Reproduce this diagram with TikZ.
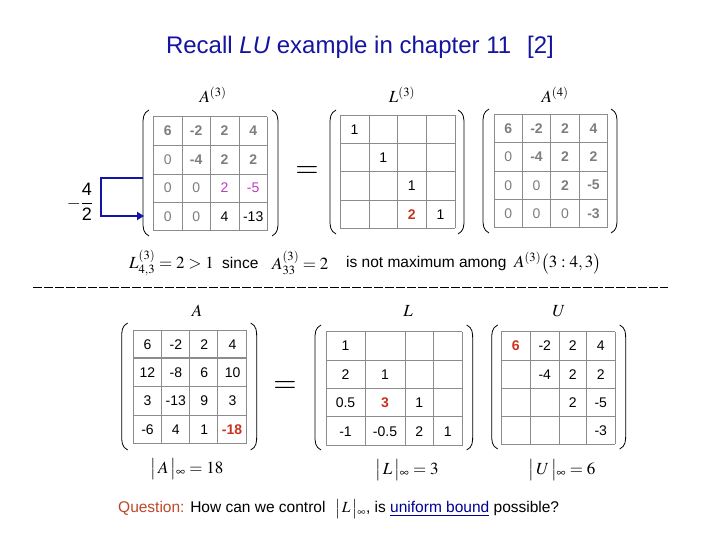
\documentclass[tikz,border=0pt]{standalone}
\usepackage{mathptmx}
\usepackage[no-math]{fontspec}
\setmainfont{Liberation Sans}
\usetikzlibrary{arrows.meta}
\definecolor{titleblue}{RGB}{20,20,160}
\definecolor{gridgray}{RGB}{140,140,140}
\definecolor{numgray}{RGB}{125,125,125}
\definecolor{pinknum}{RGB}{190,60,190}
\definecolor{rednum}{RGB}{200,50,30}
\definecolor{arrowblue}{RGB}{20,20,170}
\definecolor{askred}{RGB}{190,70,40}
\definecolor{linkblue}{RGB}{0,0,150}
\tikzset{
   cell/.style={inner sep=0pt, font=\fontsize{14}{16}\selectfont},
   graybold/.style={cell, text=numgray, font=\fontsize{14}{16}\selectfont\bfseries},
   grayplain/.style={cell, text=numgray},
   pinkcell/.style={cell, text=pinknum},
   redcell/.style={cell, text=rednum, font=\fontsize{14}{16}\selectfont\bfseries},
   gridline/.style={draw=gridgray, line width=0.9pt},
   paren/.style={draw=black, line width=0.8pt},
   mathlabel/.style={inner sep=0pt, font=\fontsize{17}{19}\selectfont},
   plaintext/.style={inner sep=0pt, font=\fontsize{15.5}{19}\selectfont},
   bigeq/.style={inner sep=0pt, font=\fontsize{30}{32}\selectfont},
   rowarrow/.style={draw=arrowblue, line width=2.8pt, -{Triangle[length=7pt,width=8pt]}}
}

\begin{document}
\begin{tikzpicture}[x=1pt, y=-1pt]
   \useasboundingbox (0,0) rectangle (720,540);

   \node[font=\fontsize{24}{28}\selectfont, text=titleblue] (title) at (360,47)
      {Recall \textit{LU} example in chapter 11\hspace{16pt}[2]};

   % parentheses round the six matrices
   \foreach \l/\r/\t/\b in {143/278/110/236, 330/464/110/234, 483/617/109/233,
                           121.7/256.7/323/450, 315/472.7/325/450, 491.7/625.7/325/449}{
      \draw[paren] (\l+6,\t) .. controls (\l,\t+3) and (\l,\t+8) .. (\l,\t+15)
         -- (\l,\b-15) .. controls (\l,\b-8) and (\l,\b-3) .. (\l+6,\b);
      \draw[paren] (\r-6,\t) .. controls (\r,\t+3) and (\r,\t+8) .. (\r,\t+15)
         -- (\r,\b-15) .. controls (\r,\b-8) and (\r,\b-3) .. (\r-6,\b);
   }

   % A^(3)
   \node[mathlabel] (athreelab) at (213,95) {$A^{(3)}$};
   \foreach \x in {153.3,182.3,210,239,267.3} \draw[gridline] (\x,116.7) -- (\x,230.7);
   \foreach \y in {116.7,145,174,202.7,230.7} \draw[gridline] (153.3,\y) -- (267.3,\y);
   \foreach \x/\v [count=\c] in {167.8/6,196.2/-2,224.5/2,253.2/4}
      \node[graybold] (athree-1-\c) at (\x,131) {\v};
   \node[grayplain] (athree-2-1) at (167.8,159.5) {0};
   \foreach \x/\v [count=\c from 2] in {196.2/-4,224.5/2,253.2/2}
      \node[graybold] (athree-2-\c) at (\x,159.5) {\v};
   \node[grayplain] (athree-3-1) at (167.8,188) {0};
   \node[grayplain] (athree-3-2) at (196.2,188) {0};
   \node[pinkcell] (athree-3-3) at (224.5,188) {2};
   \node[pinkcell] (athree-3-4) at (253.2,188) {-5};
   \node[grayplain] (athree-4-1) at (167.8,216.7) {0};
   \node[grayplain] (athree-4-2) at (196.2,216.7) {0};
   \node[cell] (athree-4-3) at (224.5,216.7) {4};
   \node[cell] (athree-4-4) at (253.2,216.7) {-13};

   % multiplier and row operation
   \node[inner sep=0pt, font=\fontsize{18}{20}\selectfont] (mult) at (80,202)
      {$\displaystyle -\frac{\mbox{4}}{\mbox{2}}$};
   \coordinate (rowthree) at (143,178);
   \coordinate (turn) at (101,178);
   \coordinate (rowfour) at (144,216);
   \draw[rowarrow] (rowthree) -- (turn) |- (rowfour);

   \node[bigeq] (eqtop) at (307,172) {$=$};

   % L^(3)
   \node[mathlabel] (lthreelab) at (402,95) {$L^{(3)}$};
   \foreach \x in {340,369,397.3,426,455} \draw[gridline] (\x,115) -- (\x,228.3);
   \foreach \y in {115,143.3,171.7,200,228.3} \draw[gridline] (340,\y) -- (455,\y);
   \node[cell] (lthree-1-1) at (354.5,129.2) {1};
   \node[cell] (lthree-2-2) at (383.2,157.5) {1};
   \node[cell] (lthree-3-3) at (411.7,185.8) {1};
   \node[redcell] (lthree-4-3) at (411.7,214.2) {2};
   \node[cell] (lthree-4-4) at (440.5,214.2) {1};

   % A^(4)
   \node[mathlabel] (afourlab) at (555,95) {$A^{(4)}$};
   \foreach \x in {494,522.3,550.7,579.3,607.7} \draw[gridline] (\x,114) -- (\x,227.7);
   \foreach \y in {114,142.3,171,199.3,227.7} \draw[gridline] (494,\y) -- (607.7,\y);
   \foreach \x/\v [count=\c] in {508.2/6,536.5/-2,565/2,593.5/4}
      \node[graybold] (afour-1-\c) at (\x,128.2) {\v};
   \node[grayplain] (afour-2-1) at (508.2,156.7) {0};
   \foreach \x/\v [count=\c from 2] in {536.5/-4,565/2,593.5/2}
      \node[graybold] (afour-2-\c) at (\x,156.7) {\v};
   \node[grayplain] (afour-3-1) at (508.2,185.2) {0};
   \node[grayplain] (afour-3-2) at (536.5,185.2) {0};
   \node[graybold] (afour-3-3) at (565,185.2) {2};
   \node[graybold] (afour-3-4) at (593.5,185.2) {-5};
   \node[grayplain] (afour-4-1) at (508.2,213.5) {0};
   \node[grayplain] (afour-4-2) at (536.5,213.5) {0};
   \node[grayplain] (afour-4-3) at (565,213.5) {0};
   \node[graybold] (afour-4-4) at (593.5,213.5) {-3};

   % remark line
   \node[mathlabel, anchor=west] (lfact) at (129,263) {$L^{(3)}_{4,3}=2>1$};
   \node[plaintext, anchor=west] (since) at (222,263) {since};
   \node[mathlabel, anchor=west] (pivot) at (272,263) {$A^{(3)}_{33}=2$};
   \node[plaintext, anchor=west] (notmax) at (346,263) {is not maximum among};
   \node[mathlabel, anchor=west] (column) at (514,263) {$A^{(3)}\bigl(3:4,3\bigr)$};

   \draw[line width=0.8pt, dash pattern=on 8.5pt off 2.5pt] (33,287) -- (668,287);

   % A
   \node[mathlabel] (alab) at (197,311) {$A$};
   \foreach \x in {133.3,161.7,189.3,217.3,246.7} \draw[gridline] (\x,330) -- (\x,443.3);
   \foreach \y in {330,386.7,415,443.3} \draw[gridline] (133.3,\y) -- (246.7,\y);
   \draw[gridline, line width=2.2pt] (133.3,358.3) -- (246.7,358.3);
   \foreach \v [count=\c, evaluate=\c as \x using {147.5+28.35*(\c-1)}] in {6,-2,2,4}
      \node[cell] (a-1-\c) at (\x,344.2) {\v};
   \foreach \v [count=\c, evaluate=\c as \x using {147.5+28.35*(\c-1)}] in {12,-8,6,10}
      \node[cell] (a-2-\c) at (\x,372.5) {\v};
   \foreach \v [count=\c, evaluate=\c as \x using {147.5+28.35*(\c-1)}] in {3,-13,9,3}
      \node[cell] (a-3-\c) at (\x,400.8) {\v};
   \foreach \v [count=\c, evaluate=\c as \x using {147.5+28.35*(\c-1)}] in {-6,4,1}
      \node[cell] (a-4-\c) at (\x,429.2) {\v};
   \node[redcell] (a-4-4) at (232,429.2) {-18};
   \node[mathlabel] (anorm) at (187,469) {$\bigl|\,A\,\bigr|{}_{\infty}=18$};

   \node[bigeq] (eqbottom) at (285,387) {$=$};

   % L
   \node[mathlabel] (llab) at (408,311) {$L$};
   \foreach \x in {326,365,405,433.3,462.3} \draw[gridline] (\x,331.7) -- (\x,445.7);
   \foreach \y in {331.7,360,388.3,416.7,445.7} \draw[gridline] (326,\y) -- (462.3,\y);
   \node[cell] (l-1-1) at (345.5,345.8) {1};
   \node[cell] (l-2-1) at (345.5,374.2) {2};
   \node[cell] (l-2-2) at (385,374.2) {1};
   \node[cell] (l-3-1) at (345.5,402.5) {0.5};
   \node[redcell] (l-3-2) at (385,402.5) {3};
   \node[cell] (l-3-3) at (419.2,402.5) {1};
   \node[cell] (l-4-1) at (345.5,431.2) {-1};
   \node[cell] (l-4-2) at (385,431.2) {-0.5};
   \node[cell] (l-4-3) at (419.2,431.2) {2};
   \node[cell] (l-4-4) at (447.8,431.2) {1};
   \node[mathlabel] (lnorm) at (407,470) {$\bigl|\,L\,\bigr|{}_{\infty}=3$};

   % U
   \node[mathlabel] (ulab) at (559,311) {$U$};
   \foreach \x in {501,530.7,559,586.7,615} \draw[gridline] (\x,331.7) -- (\x,444.3);
   \foreach \y in {331.7,360,388.3,416.7,444.3} \draw[gridline] (501,\y) -- (615,\y);
   \node[redcell] (u-1-1) at (515.8,345.8) {6};
   \node[cell] (u-1-2) at (544.8,345.8) {-2};
   \node[cell] (u-1-3) at (572.8,345.8) {2};
   \node[cell] (u-1-4) at (600.8,345.8) {4};
   \node[cell] (u-2-2) at (544.8,374.2) {-4};
   \node[cell] (u-2-3) at (572.8,374.2) {2};
   \node[cell] (u-2-4) at (600.8,374.2) {2};
   \node[cell] (u-3-3) at (572.8,402.5) {2};
   \node[cell] (u-3-4) at (600.8,402.5) {-5};
   \node[cell] (u-4-4) at (600.8,430.5) {-3};
   \node[mathlabel] (unorm) at (562,470) {$\bigl|\,U\,\bigr|{}_{\infty}=6$};

   % question
   \node[plaintext, anchor=west] (question) at (118,509)
      {\textcolor{askred}{Question:} How can we control\,\, $\bigl|\,L\,\bigr|{}_{\infty}$, is
       \textcolor{linkblue}{\underline{uniform bound}} possible?};
\end{tikzpicture}
\end{document}
